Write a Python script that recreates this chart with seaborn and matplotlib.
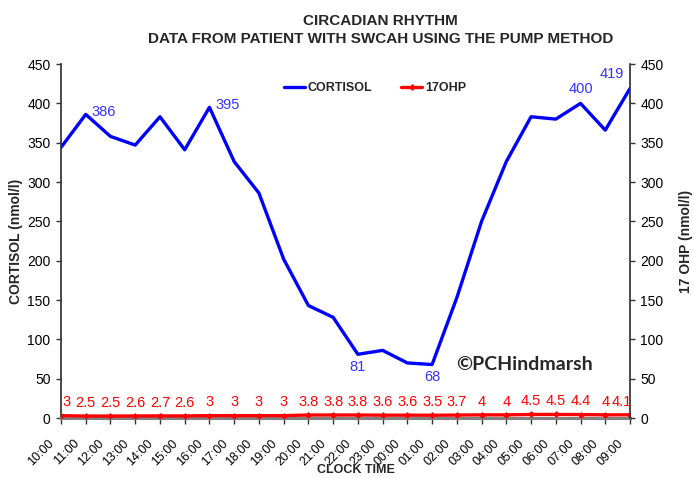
import matplotlib
matplotlib.use("Agg")
import matplotlib.pyplot as plt
import seaborn as sns
import pandas as pd
from matplotlib.lines import Line2D
from matplotlib.transforms import ScaledTranslation
from matplotlib import font_manager

# data
times = ['10:00', '11:00', '12:00', '13:00', '14:00', '15:00', '16:00', '17:00',
         '18:00', '19:00', '20:00', '21:00', '22:00', '23:00', '00:00', '01:00',
         '02:00', '03:00', '04:00', '05:00', '06:00', '07:00', '08:00', '09:00']
cortisol = [344, 386, 358, 347, 383, 341, 395, 326, 286, 202, 143, 128, 81, 86,
            70, 68, 153, 250, 326, 383, 380, 400, 366, 419]
ohp17 = [3, 2.5, 2.5, 2.6, 2.7, 2.6, 3, 3, 3, 3, 3.8, 3.8, 3.8, 3.6, 3.6, 3.5,
         3.7, 4, 4, 4.5, 4.5, 4.4, 4, 4.1]
# which cortisol points carry a label, and where
cort_labels = {1: 'right', 6: 'right', 12: 'below', 15: 'below', 21: 'above', 23: 'aboveleft'}

df = pd.DataFrame({'idx': range(len(times)), 'time': times,
                   'cortisol': cortisol, 'ohp': ohp17})

sns.set_theme(style="white")
plt.rcParams['font.family'] = ['Liberation Sans', 'DejaVu Sans']

installed = {f.name for f in font_manager.fontManager.ttflist}
if 'Liberation Sans Narrow' in installed:
    narrow, title_size, xl_size = 'Liberation Sans Narrow', 13, 10.5
else:
    narrow, title_size, xl_size = 'Liberation Sans', 11, 9

fig = plt.figure(figsize=(6.94, 4.78), dpi=100)
ax = fig.add_axes([0.0879, 0.1255, 0.8199, 0.7405])
ax2 = ax.twinx()

sns.lineplot(data=df, x='idx', y='cortisol', ax=ax, color='#0000FF', linewidth=2.4,
             sort=False, legend=False)
sns.lineplot(data=df, x='idx', y='ohp', ax=ax2, color='#FF0000', linewidth=2.4,
             marker='D', markersize=3.5, markeredgewidth=0, sort=False, legend=False)

for a in (ax, ax2):
    a.set_ylim(0, 450)
    a.set_xlim(0, len(times) - 1)
    a.set_yticks(range(0, 451, 50))
    a.tick_params(axis='y', direction='out', length=3.5, width=1, colors='#333333',
                  labelcolor='black', labelsize=10, pad=4)
    a.grid(False)
    for s in a.spines.values():
        s.set_visible(False)

ax.spines['left'].set_visible(True)
ax.spines['left'].set_color('#333333')
ax2.spines['right'].set_visible(True)
ax2.spines['right'].set_color('#333333')
ax.spines['bottom'].set_visible(True)
ax.spines['bottom'].set_color('#808080')
ax.spines['bottom'].set_linewidth(2.2)
ax.tick_params(axis='y', left=True)
ax2.tick_params(axis='y', right=True)

ax.set_xticks(df['idx'])
ax.set_xticklabels(times, rotation=45, ha='right', va='top', fontsize=9)
ax.tick_params(axis='x', bottom=True, direction='out', length=4, width=1, colors='#333333',
               labelcolor='black', pad=10)
shift = ScaledTranslation(-3 / 72, 0, fig.dpi_scale_trans)
for lab in ax.get_xticklabels():
    lab.set_transform(lab.get_transform() + shift)

ax.set_xlabel('CLOCK TIME', fontsize=xl_size, fontweight='bold', family=narrow, va='center')
ax.xaxis.set_label_coords(0.518, -0.1455)
ax.set_ylabel('CORTISOL (nmol/l)', fontsize=10, fontweight='bold', labelpad=3)
ax2.set_ylabel('17 OHP (nmol/l)', fontsize=10, fontweight='bold', labelpad=11)

# cortisol data labels
for i, pos in cort_labels.items():
    v = cortisol[i]
    if pos == 'right':
        off, ha, va = (4, 2), 'left', 'center'
    elif pos == 'below':
        off, ha, va = (0, -4), 'center', 'top'
    elif pos == 'above':
        off, ha, va = (0, 5), 'center', 'bottom'
    else:
        off, ha, va = (-4, 5), 'right', 'bottom'
    ax.annotate(str(v), (i, v), xytext=off, textcoords='offset points',
                ha=ha, va=va, color='#3333FF', fontsize=10.5)

# 17OHP data labels
last = len(ohp17) - 1
for i, v in enumerate(ohp17):
    dx = 4 if i == 0 else (-6 if i == last else 0)
    ax2.annotate(f'{v:g}', (i, v), xytext=(dx, 4.5), textcoords='offset points',
                 ha='center', va='bottom', color='#FF0000', fontsize=10.5)

ax.text(0.695, 0.1525, '©PCHindmarsh', transform=ax.transAxes, fontsize=14,
        fontweight='bold', family='Lato', ha='left', va='center')

handles = [Line2D([], [], color='#0000FF', linewidth=2.4),
           Line2D([], [], color='#FF0000', linewidth=2.4, marker='D', markersize=3.5,
                  markeredgewidth=0)]
leg = ax2.legend(handles, ['CORTISOL', '17OHP'], loc='center',
                 bbox_to_anchor=(0.552, 0.932), ncol=2, frameon=False,
                 handlelength=1.7, columnspacing=2.3, handletextpad=0.2,
                 prop={'weight': 'bold', 'size': 9})

fig.text(0.548, 0.956, 'CIRCADIAN RHYTHM', ha='center', va='center', fontsize=title_size,
         fontweight='bold', family=narrow)
fig.text(0.548, 0.918, 'DATA FROM PATIENT WITH SWCAH USING THE PUMP METHOD', ha='center',
         va='center', fontsize=title_size, fontweight='bold', family=narrow)

fig.savefig('out.png', dpi=100)
